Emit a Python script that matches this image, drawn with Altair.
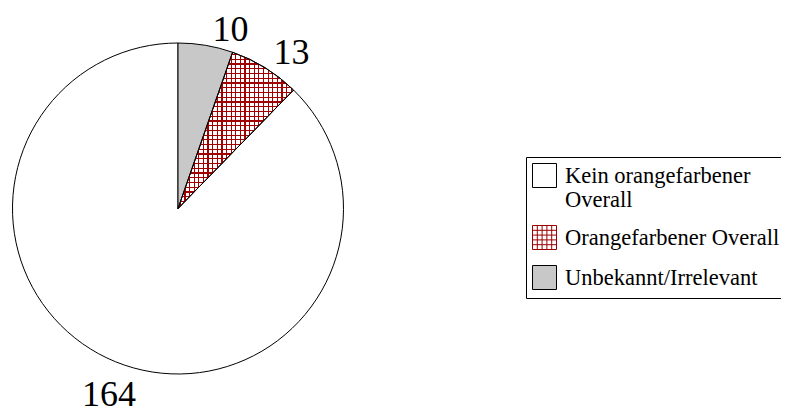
import altair as alt
import pandas as pd

# ---- data ----
categories = ["Kein orangefarbener Overall", "Orangefarbener Overall", "Unbekannt/Irrelevant"]
values = [164, 13, 10]

# ---- styles ----
fill_range = ["#ffffff", "#ffffff", "#c8c8c8"]
stroke_range = ["#000000", "#9b0000", "#000000"]
HATCH_RED = "#a00000"
CLEAR = "rgba(255,255,255,0)"
GRID_PATH = ("M-1,-1H1V1H-1Z"
             "M-0.6,-1V1M-0.2,-1V1M0.2,-1V1M0.6,-1V1"
             "M-1,-0.6H1M-1,-0.2H1M-1,0.2H1M-1,0.6H1")
shape_range = ["square", GRID_PATH, "square"]
FONT = "Liberation Serif"
LABEL_EXPR = ("length(datum.label) > 22 ? [substring(datum.label, 0, lastindexof(datum.label, ' ')), "
              "substring(datum.label, lastindexof(datum.label, ' ') + 1)] : datum.label")


def stripes(vertical, n, w):
    stops = [{"offset": 0, "color": CLEAR}]
    for i in range(n):
        c = (i + 0.5) / n
        s, e = round(c - w / 2, 5), round(c + w / 2, 5)
        stops += [{"offset": s, "color": CLEAR}, {"offset": s, "color": HATCH_RED},
                  {"offset": e, "color": HATCH_RED}, {"offset": e, "color": CLEAR}]
    stops.append({"offset": 1, "color": CLEAR})
    g = {"gradient": "linear", "stops": stops, "x1": 0, "y1": 0}
    if vertical:
        g.update({"x2": 1, "y2": 0})
    else:
        g.update({"x2": 0, "y2": 1})
    return g


df = pd.DataFrame({"category": categories, "value": values})

base = alt.Chart(df).transform_joinaggregate(
    total="sum(value)"
).transform_window(
    cum="sum(value)", sort=[alt.SortField("value", order="ascending")], frame=[None, 0]
).transform_calculate(
    start="(datum.cum - datum.value) / datum.total",
    end="datum.cum / datum.total",
    mid="(datum.cum - datum.value / 2) / datum.total",
)

theta_scale = alt.Scale(domain=[0, 1])
R = 165.5
leg = alt.Legend(labelExpr=LABEL_EXPR, title=None)

fill_enc = alt.Fill("category:N", scale=alt.Scale(domain=categories, range=fill_range), legend=leg)

pie = base.mark_arc(radius=R, stroke="black", strokeWidth=1).encode(
    theta=alt.Theta("start:Q", scale=theta_scale),
    theta2="end:Q",
    fill=fill_enc,
)

hatched = base.transform_filter(alt.datum.category == categories[1])
hatch_v = hatched.mark_arc(radius=R, fill=stripes(True, 25, 0.0105), strokeOpacity=0).encode(
    theta=alt.Theta("start:Q", scale=theta_scale), theta2="end:Q")
hatch_h = hatched.mark_arc(radius=R, fill=stripes(False, 33, 0.0078), stroke="black", strokeWidth=1).encode(
    theta=alt.Theta("start:Q", scale=theta_scale), theta2="end:Q")

labels_top = base.transform_filter(alt.datum.category != categories[0]).mark_text(
    radius=170, align="left", baseline="alphabetic", dx=6, font=FONT, fontSize=36, color="black"
).encode(theta=alt.Theta("mid:Q", scale=theta_scale), text="value:Q")

labels_bottom = base.transform_filter(alt.datum.category == categories[0]).mark_text(
    radius=183, align="center", baseline="top", font=FONT, fontSize=36, color="black"
).encode(theta=alt.Theta("mid:Q", scale=theta_scale), text="value:Q")

legend_pts = base.transform_filter("false").mark_point(filled=True).encode(
    fill=fill_enc,
    shape=alt.Shape("category:N", scale=alt.Scale(domain=categories, range=shape_range), legend=leg),
    stroke=alt.Stroke("category:N", scale=alt.Scale(domain=categories, range=stroke_range), legend=leg),
)

chart = alt.layer(pie, hatch_v, hatch_h, labels_top, labels_bottom, legend_pts).properties(
    width=340, height=401,
    autosize=alt.AutoSizeParams(type="none"),
    padding={"left": 0, "top": 0, "right": 433, "bottom": 5},
).configure_view(stroke=None).configure_legend(
    orient="none", legendX=518, legendY=149,
    strokeColor="black", fillColor="white", padding=6,
    labelFont=FONT, labelFontSize=22.5, labelColor="black", labelLimit=400,
    labelOffset=8, symbolSize=576, symbolStrokeWidth=1, rowPadding=11,
)

chart.save("out.html", embed_options={"renderer": "svg", "actions": False})
